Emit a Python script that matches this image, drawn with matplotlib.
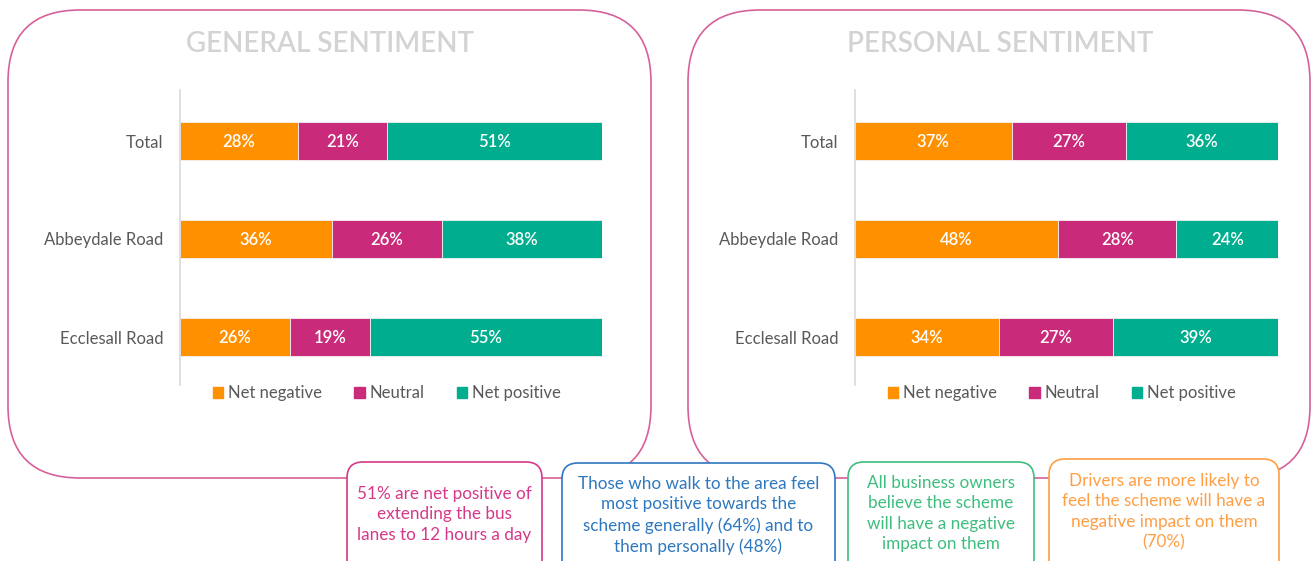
import matplotlib
matplotlib.use("Agg")
import matplotlib.pyplot as plt
from matplotlib.patches import FancyBboxPatch, Patch

# Sentiment shares (%) per location
categories = ["Total", "Abbeydale Road", "Ecclesall Road"]
series_names = ["Net negative", "Neutral", "Net positive"]
general_negative = [28, 36, 26]
general_neutral = [21, 26, 19]
general_positive = [51, 38, 55]
personal_negative = [37, 48, 34]
personal_neutral = [27, 28, 27]
personal_positive = [36, 24, 39]

panel_titles = ["GENERAL SENTIMENT", "PERSONAL SENTIMENT"]
callout_texts = [
    "51% are net positive of\nextending the bus\nlanes to 12 hours a day",
    "Those who walk to the area feel\nmost positive towards the\nscheme generally (64%) and to\nthem personally (48%)",
    "All business owners\nbelieve the scheme\nwill have a negative\nimpact on them",
    "Drivers are more likely to\nfeel the scheme will have a\nnegative impact on them\n(70%)",
]

COLORS = ["#FF9100", "#C92A7A", "#00AD8E"]
FRAME = "#D6609A"
CALLOUT_COLORS = ["#D6388A", "#2E78C0", "#3DBE7E", "#FF9F45"]
FONT = ["Lato", "DejaVu Sans"]

W, H = 1312, 561
fig = plt.figure(figsize=(W / 100, H / 100), dpi=100)
fig.patch.set_facecolor("white")

# Background layer in pixel units for the frames and callouts
bg = fig.add_axes([0, 0, 1, 1], zorder=0)
bg.set_xlim(0, W)
bg.set_ylim(H, 0)
bg.axis("off")

for x0, x1 in [(8, 651), (688, 1310)]:
    bg.add_patch(FancyBboxPatch((x0, 10), x1 - x0, 468,
                                boxstyle="round,pad=0,rounding_size=72",
                                fc="white", ec=FRAME, lw=1.2, zorder=1))

callout_boxes = [(347, 542, 462), (562, 835, 463), (848, 1034, 462), (1049, 1279, 459)]
callout_text_top = [494, 484, 483, 481]
for (x0, x1, y0), txt, col, ty in zip(callout_boxes, callout_texts, CALLOUT_COLORS, callout_text_top):
    bg.add_patch(FancyBboxPatch((x0, y0), x1 - x0, 130,
                                boxstyle="round,pad=0,rounding_size=16",
                                fc="white", ec=col, lw=1.2, zorder=3))
    bg.text((x0 + x1) / 2, ty - 8, txt, ha="center", va="top", color=col,
            fontsize=12.3, family=FONT, linespacing=1.34, zorder=4)

# Panel titles
for cx, title in zip([330, 1000], panel_titles):
    bg.text(cx, 44, title, ha="center", va="center", color="#D3D3D3",
            fontsize=20, fontweight="semibold", family=FONT, zorder=4)

panels = [
    (180, 602, [general_negative, general_neutral, general_positive], 387),
    (855, 1278, [personal_negative, personal_neutral, personal_positive], 1062),
]

top_px, bottom_px = 90, 385
row_px = [141, 239, 337]
step = row_px[1] - row_px[0]
for x0, x1, series, legend_cx in panels:
    ax = fig.add_axes([x0 / W, 1 - bottom_px / H, (x1 - x0) / W, (bottom_px - top_px) / H], zorder=2)
    ax.patch.set_alpha(0)
    ypos = list(range(len(categories)))
    left = [0] * len(categories)
    for vals, col, name in zip(series, COLORS, series_names):
        bars = ax.barh(ypos, vals, left=left, height=38 / step, color=col,
                       edgecolor="#F2F2F2", linewidth=0.6, label=name)
        for b, v in zip(bars, vals):
            ax.text(b.get_x() + b.get_width() / 2, b.get_y() + b.get_height() / 2 + 0.01,
                    f"{v}%", ha="center", va="center", color="white",
                    fontsize=12, fontweight="semibold", family=FONT)
        left = [l + v for l, v in zip(left, vals)]
    ax.set_xlim(0, 100)
    ax.set_ylim(2 + (bottom_px - row_px[2]) / step, -(row_px[0] - top_px) / step)
    ax.set_yticks(ypos)
    ax.set_yticklabels(categories, family=FONT, fontsize=12, color="#595959")
    ax.tick_params(axis="y", length=0, pad=12)
    ax.set_xticks([])
    for s in ["top", "right", "bottom"]:
        ax.spines[s].set_visible(False)
    ax.spines["left"].set_color("#D9D9D9")
    ax.spines["left"].set_linewidth(1.2)

    handles = [Patch(color=c, label=n) for c, n in zip(COLORS, series_names)]
    fig.legend(handles=handles, loc="center", ncol=3,
               bbox_to_anchor=(legend_cx / W, 1 - 393 / H), frameon=False,
               prop={"family": FONT, "size": 12}, labelcolor="#595959",
               handlelength=0.65, handleheight=0.65, handletextpad=0.3,
               columnspacing=1.9)

fig.savefig("out.png", dpi=100, facecolor="white")
